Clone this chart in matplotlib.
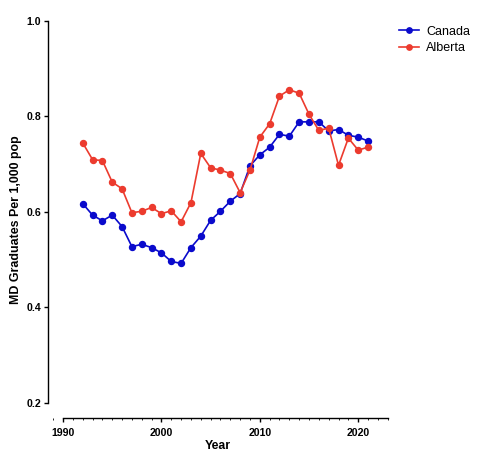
import matplotlib
matplotlib.use("Agg")
import matplotlib.pyplot as plt
from matplotlib.ticker import MultipleLocator

years = list(range(1992, 2022))
canada = [0.617, 0.593, 0.581, 0.593, 0.569, 0.527, 0.532, 0.525, 0.514, 0.496,
          0.492, 0.525, 0.549, 0.582, 0.601, 0.622, 0.638, 0.696, 0.719, 0.735,
          0.762, 0.758, 0.788, 0.788, 0.788, 0.769, 0.772, 0.760, 0.756, 0.748]
alberta = [0.744, 0.709, 0.707, 0.662, 0.648, 0.598, 0.601, 0.609, 0.596, 0.602,
           0.579, 0.619, 0.722, 0.692, 0.687, 0.680, 0.640, 0.687, 0.756, 0.784,
           0.842, 0.855, 0.848, 0.804, 0.770, 0.775, 0.697, 0.754, 0.729, 0.735]
x_ticks = [1990, 2000, 2010, 2020]
y_ticks = [0.2, 0.4, 0.6, 0.8, 1.0]

plt.rcParams['font.family'] = ['Liberation Sans', 'DejaVu Sans']

fig = plt.figure(figsize=(4.79, 4.63), dpi=100)
ax = fig.add_axes([0.1002, 0.0972, 0.7092, 0.8585])

blue = '#0A0ACC'
red = '#EC3B2E'
ax.plot(years, canada, color=blue, marker='o', markersize=4.3, linewidth=1.2, label='Canada')
ax.plot(years, alberta, color=red, marker='o', markersize=4.3, linewidth=1.2, label='Alberta')

ax.set_xlim(1988.47, 2023.0)
ax.set_ylim(0.2 - 15 / 478.1, 1.0)
ax.spines['top'].set_visible(False)
ax.spines['right'].set_visible(False)
ax.spines['left'].set_bounds(0.2, 1.0)
ax.spines['bottom'].set_bounds(1990, 2023)
for s in ('left', 'bottom'):
    ax.spines[s].set_linewidth(1.0)

ax.set_xticks(x_ticks)
ax.set_yticks(y_ticks)
ax.set_yticklabels([f"{v:.1f}" for v in y_ticks])
ax.xaxis.set_minor_locator(MultipleLocator(1))
ax.tick_params(axis='both', which='major', length=3, width=1.0, labelsize=7.6, pad=2)
ax.tick_params(axis='x', which='major', pad=4)
ax.tick_params(axis='x', which='minor', length=1.5, width=0.6)
for lab in ax.get_xticklabels() + ax.get_yticklabels():
    lab.set_fontweight('bold')

ax.set_xlabel('Year', fontsize=8.8, fontweight='bold', labelpad=2)
ax.set_ylabel('MD Graduates Per 1,000 pop', fontsize=8.9, fontweight='bold', labelpad=3)

ax.legend(loc='upper left', bbox_to_anchor=(1.0, 1.015), frameon=False, fontsize=9,
          handlelength=1.6, handletextpad=0.6, labelspacing=0.35, markerscale=0.9)

fig.savefig('out.png', dpi=100)
